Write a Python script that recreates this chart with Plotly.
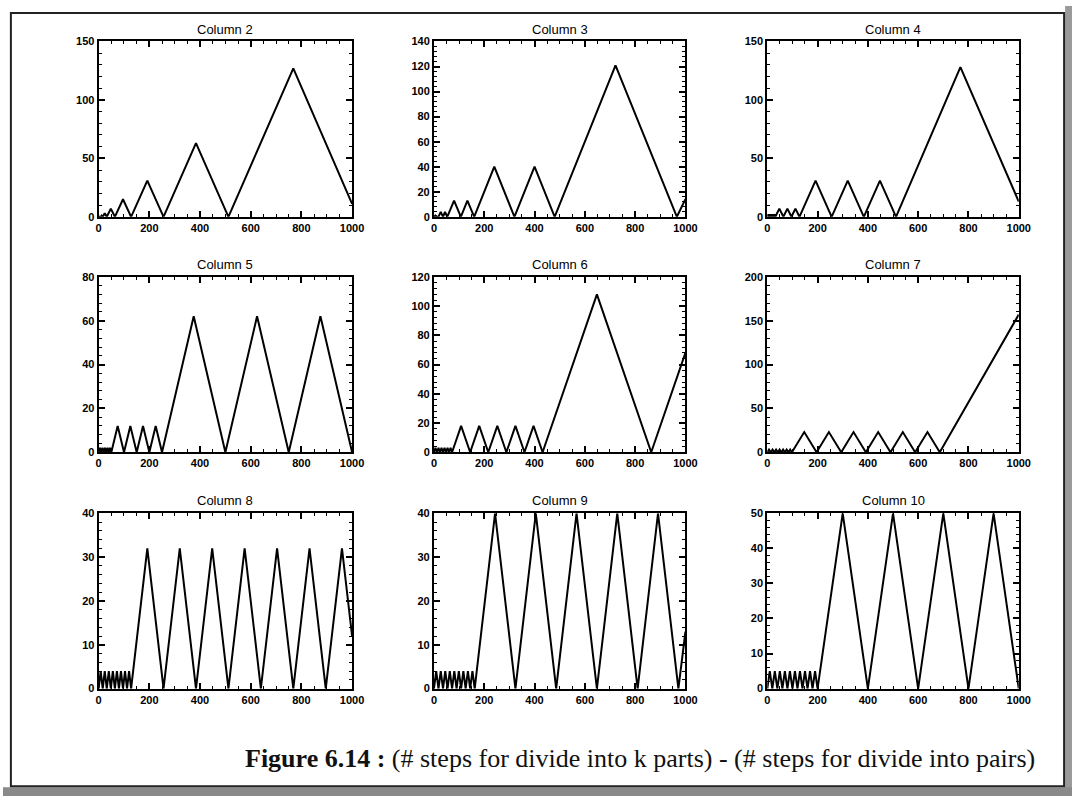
import plotly.graph_objects as go

# ---- data: vertices of each panel's curve ----
col2_x = [0, 8, 12, 16, 24, 32, 48, 64, 96, 128, 192, 256, 384, 512, 768, 1000]
col2_y = [0, 0, 1, 0, 3, 0, 7, 0, 15, 0, 31, 0, 63, 0, 127, 11]

col3_x = [0, 6, 12, 18, 27, 36, 44, 53, 80, 107, 133, 160, 240, 320, 400, 480, 722, 966, 1000]
col3_y = [0, 1, 0, 0, 4, 0, 4, 0, 13, 0, 13, 0, 40, 0, 40, 0, 121, 0, 14]

col4_x = [0, 4, 8, 12, 16, 20, 24, 28, 32, 48, 64, 80, 96, 112, 128, 192, 256, 320, 384, 448, 512, 768, 1000]
col4_y = [0, 2, 0, 2, 0, 2, 0, 2, 0, 7, 0, 7, 0, 7, 0, 31, 0, 31, 0, 31, 0, 128, 13]

col5_x = [0, 5, 10, 15, 20, 25, 30, 35, 40, 45, 50, 75, 100, 125, 150, 175, 200, 225, 250, 375, 500, 625, 750, 875, 1000]
col5_y = [0, 2, 0, 2, 0, 2, 0, 2, 0, 2, 0, 12, 0, 12, 0, 12, 0, 12, 0, 62, 0, 62, 0, 62, 0]

col6_x = [0, 6, 12, 18, 24, 30, 36, 42, 48, 54, 60, 66, 72, 108, 144, 180, 216, 252, 288, 324, 360, 396, 432, 648, 864, 1000]
col6_y = [0, 3, 0, 3, 0, 3, 0, 3, 0, 3, 0, 3, 0, 18, 0, 18, 0, 18, 0, 18, 0, 18, 0, 108, 0, 68]

col7_x = [0, 7, 14, 21, 28, 35, 42, 49, 56, 63, 70, 77, 84, 91, 98, 147, 196, 245, 294, 343, 392, 441, 490, 539, 588, 637, 686, 1000]
col7_y = [0, 3, 0, 3, 0, 3, 0, 3, 0, 3, 0, 3, 0, 3, 0, 23, 0, 23, 0, 23, 0, 23, 0, 23, 0, 23, 0, 157]

col8_x = [0, 8, 16, 24, 32, 40, 48, 56, 64, 72, 80, 88, 96, 104, 112, 120, 128,
          192, 256, 320, 384, 448, 512, 576, 640, 704, 768, 832, 896, 960, 1000]
col8_y = [0, 4, 0, 4, 0, 4, 0, 4, 0, 4, 0, 4, 0, 4, 0, 4, 0,
          32, 0, 32, 0, 32, 0, 32, 0, 32, 0, 32, 0, 32, 12]

col9_x = [0, 9, 18, 27, 36, 45, 54, 63, 72, 81, 90, 99, 108, 117, 126, 135, 144, 153, 162,
          243, 324, 405, 486, 567, 648, 729, 810, 891, 972, 1000]
col9_y = [0, 4, 0, 4, 0, 4, 0, 4, 0, 4, 0, 4, 0, 4, 0, 4, 0, 4, 0,
          40, 0, 40, 0, 40, 0, 40, 0, 40, 0, 13]

col10_x = [0, 10, 20, 30, 40, 50, 60, 70, 80, 90, 100, 110, 120, 130, 140, 150, 160, 170, 180, 190, 200,
           300, 400, 500, 600, 700, 800, 900, 1000]
col10_y = [0, 5, 0, 5, 0, 5, 0, 5, 0, 5, 0, 5, 0, 5, 0, 5, 0, 5, 0, 5, 0,
           50, 0, 50, 0, 50, 0, 50, 0]

titles = ["Column 2", "Column 3", "Column 4", "Column 5", "Column 6",
          "Column 7", "Column 8", "Column 9", "Column 10"]
y_max = [150, 140, 150, 80, 120, 200, 40, 40, 50]
y_step = [50, 20, 50, 20, 20, 50, 10, 10, 10]
x_ticks = [0, 200, 400, 600, 800, 1000]
caption_bold = "Figure 6.14 :"
caption_rest = " (# steps for divide into k parts) - (# steps for divide into pairs)"

series = [(col2_x, col2_y), (col3_x, col3_y), (col4_x, col4_y),
          (col5_x, col5_y), (col6_x, col6_y), (col7_x, col7_y),
          (col8_x, col8_y), (col9_x, col9_y), (col10_x, col10_y)]

# ---- layout geometry (pixels) ----
W, H = 1084, 802
col_px = [(97, 354), (437, 692), (775, 1030)]
row_px = [(36, 214), (275, 453), (515, 693)]

fig = go.Figure()
layout = {}
tick_font = dict(family="Liberation Sans, Arial, sans-serif", size=11, color="#000", weight="bold")
for i, ((xs, ys), title) in enumerate(zip(series, titles)):
    r, c = divmod(i, 3)
    n = "" if i == 0 else str(i + 1)
    fig.add_trace(go.Scatter(x=xs, y=ys, mode="lines",
                             line=dict(color="black", width=2),
                             xaxis="x" + n, yaxis="y" + n, showlegend=False))
    x0, x1 = col_px[c]
    y0, y1 = row_px[r]
    common = dict(showline=True, linecolor="black", linewidth=2, mirror="allticks",
                  ticks="inside", ticklen=6, tickwidth=1.5, tickcolor="black",
                  showgrid=False, zeroline=False, tickfont=tick_font, fixedrange=True)
    layout["xaxis" + n] = dict(domain=[x0 / W, x1 / W], range=[0, 1000],
                               tickvals=x_ticks, anchor="y" + n,
                               minor=dict(dtick=50, ticks="inside", ticklen=3,
                                          tickcolor="black", tickwidth=1),
                               **common)
    ys_ = y_step[i]
    layout["yaxis" + n] = dict(domain=[1 - y1 / H, 1 - y0 / H], range=[0, y_max[i]],
                               dtick=ys_, tick0=0, anchor="x" + n,
                               minor=dict(dtick=ys_ / 5, ticks="inside", ticklen=3,
                                          tickcolor="black", tickwidth=1),
                               **common)
    fig.add_annotation(text=title, x=(x0 + x1) / 2 / W, y=1 - (y0 - 3) / H,
                       xref="paper", yref="paper", xanchor="center", yanchor="bottom",
                       showarrow=False,
                       font=dict(family="Liberation Sans, Arial, sans-serif", size=13, color="#000"))

fig.add_annotation(text="<b>" + caption_bold + "</b>" + caption_rest,
                   x=243 / W, y=1 - 764 / H, xref="paper", yref="paper",
                   xanchor="left", yanchor="middle", showarrow=False,
                   font=dict(family="Liberation Serif, Times New Roman, serif", size=26, color="#111"))

shapes = [
    # scanned page outer frame
    dict(type="rect", xref="paper", yref="paper", x0=8 / W, x1=1076 / W,
         y0=1 - 792 / H, y1=1 - 7 / H, line=dict(color="#222", width=2)),
    # grey scanner edges
    dict(type="rect", xref="paper", yref="paper", x0=1077 / W, x1=1,
         y0=0, y1=1, fillcolor="#9a9a9a", line=dict(width=0), layer="below"),
    dict(type="rect", xref="paper", yref="paper", x0=0, x1=1,
         y0=0, y1=1 - 793 / H, fillcolor="#8a8a8a", line=dict(width=0), layer="below"),
]

fig.update_layout(width=W, height=H, margin=dict(l=0, r=0, t=0, b=0),
                  paper_bgcolor="white", plot_bgcolor="rgba(0,0,0,0)",
                  shapes=shapes, **layout)

fig.write_html("out.html", config={"displayModeBar": False},
               post_script="document.body.style.margin='0';")
